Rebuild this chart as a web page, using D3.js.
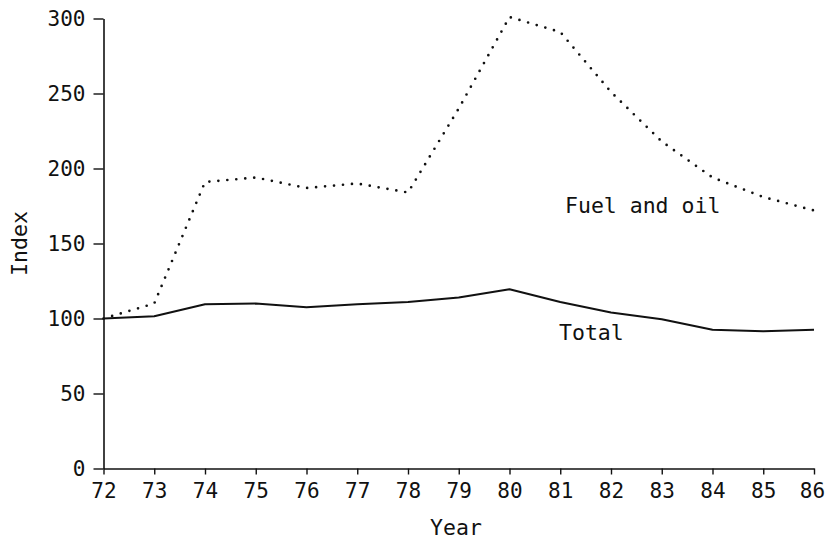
<!DOCTYPE html>
<html>
<head>
<meta charset="utf-8">
<script src="https://cdn.jsdelivr.net/npm/d3@7"></script>
<style>
  html, body { margin: 0; padding: 0; background: #fff; }
  svg { display: block; }
  text { font-family: "DejaVu Sans Mono", monospace; fill: #111; }
</style>
</head>
<body>
<svg id="chart" width="826" height="541"></svg>
<script>
// Price indices, 1972 = 100
const years = [72, 73, 74, 75, 76, 77, 78, 79, 80, 81, 82, 83, 84, 85, 86];
const fuelAndOil = [100, 110, 191, 194, 187, 190, 184, 240, 301, 291, 251, 218, 194, 181, 172];
const total = [100, 101.5, 109.5, 110, 107.5, 109.5, 111, 114, 119.5, 111, 104, 99.5, 92.5, 91.5, 92.5];
const yTicks = [0, 50, 100, 150, 200, 250, 300];
const xTicks = years;

const svg = d3.select("#chart");
const x = d3.scaleLinear().domain([72, 86]).range([103.5, 814]);
const y = d3.scaleLinear().domain([0, 300]).range([468.5, 18.5]);

const ink = "#111";
const tickFont = 21;
const labelFont = 21.5;

// Y axis
const yAxis = svg.append("g")
  .attr("transform", `translate(${x(72)},0)`)
  .call(d3.axisLeft(y).tickValues(yTicks).tickSize(10).tickSizeOuter(0).tickPadding(8));
yAxis.select(".domain").attr("stroke", ink).attr("stroke-width", 1.6);
yAxis.selectAll(".tick line").attr("stroke", ink).attr("stroke-width", 1.4);
yAxis.selectAll(".tick text")
  .style("font-family", '"DejaVu Sans Mono", monospace')
  .style("font-size", tickFont + "px")
  .attr("fill", ink);

// X axis
const xAxis = svg.append("g")
  .attr("transform", `translate(0,${y(0)})`)
  .call(d3.axisBottom(x).tickValues(xTicks).tickSize(6).tickSizeOuter(0).tickPadding(9)
    .tickFormat(d3.format("d")));
xAxis.select(".domain").attr("stroke", ink).attr("stroke-width", 1.6);
xAxis.selectAll(".tick line").attr("stroke", ink).attr("stroke-width", 1.4);
xAxis.selectAll(".tick text")
  .style("font-family", '"DejaVu Sans Mono", monospace')
  .style("font-size", tickFont + "px")
  .attr("fill", ink)
  .attr("dx", d => d === 86 ? -2 : 0);

// Axis titles
svg.append("text")
  .attr("x", 456)
  .attr("y", 535)
  .attr("text-anchor", "middle")
  .style("font-size", labelFont + "px")
  .text("Year");

svg.append("text")
  .attr("transform", `translate(27,${y(150)}) rotate(-90)`)
  .attr("text-anchor", "middle")
  .style("font-size", labelFont + "px")
  .text("Index");

// Series lines
const line = (vals) => d3.line()
  .x((d, i) => x(years[i]))
  .y(d => y(d))(vals);

svg.append("path")
  .attr("d", line(fuelAndOil))
  .attr("fill", "none")
  .attr("stroke", ink)
  .attr("stroke-width", 2.7)
  .attr("stroke-linecap", "round")
  .attr("stroke-linejoin", "round")
  .attr("stroke-dasharray", "0 9");

svg.append("path")
  .attr("d", line(total))
  .attr("fill", "none")
  .attr("stroke", ink)
  .attr("stroke-width", 2.2)
  .attr("stroke-linejoin", "round");

// Series labels
svg.append("text")
  .attr("x", 565)
  .attr("y", 213)
  .style("font-size", labelFont + "px")
  .text("Fuel and oil");

svg.append("text")
  .attr("x", 559)
  .attr("y", 340)
  .style("font-size", labelFont + "px")
  .text("Total");
</script>
</body>
</html>
